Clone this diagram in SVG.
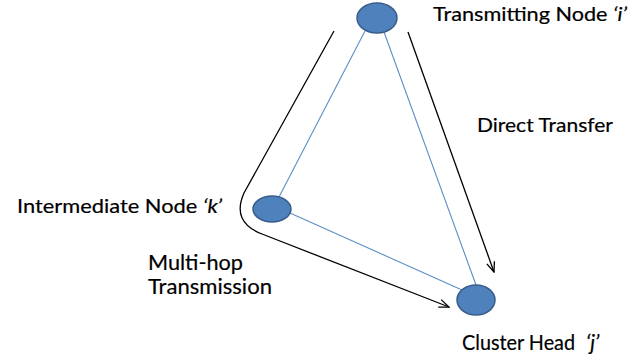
<svg xmlns="http://www.w3.org/2000/svg" width="640" height="362" viewBox="0 0 640 362">
  <defs>
    <marker id="arrow" viewBox="0 0 12 10" refX="11" refY="5" markerWidth="12" markerHeight="10" markerUnits="userSpaceOnUse" orient="auto">
      <path d="M1,1 L11,5 L1,9" fill="none" stroke="#000" stroke-width="1.3"/>
    </marker>
    <style>
      .node { fill: #4f81bd; stroke: #385d8a; stroke-width: 1.5; }
      .link { stroke: #5b8fc7; stroke-width: 1.1; fill: none; }
      .flow { stroke: #000; stroke-width: 1.3; fill: none; marker-end: url(#arrow); }
      .lbl { font-family: Lato, "Open Sans", "Liberation Sans", sans-serif; fill: #000; stroke: #000; stroke-width: 0.2; }
      .it { font-style: italic; }
    </style>
  </defs>

  <rect width="640" height="362" fill="#fff"/>

  <!-- links and transfer paths -->
  <g id="connectors">
    <line class="link" x1="365" y1="31" x2="279" y2="197"/>
    <line class="link" x1="384" y1="32" x2="476" y2="285"/>
    <line class="link" x1="290" y1="213" x2="462" y2="290"/>
    <path class="flow" d="M408,32 L494,272"/>
    <path class="flow" d="M334,31 L244,193 Q231,222 262,234 L449,307"/>
  </g>

  <g id="node-i">
    <ellipse class="node" cx="377" cy="18" rx="20" ry="15"/>
    <text class="lbl" x="433" y="21" font-size="19" textLength="194" lengthAdjust="spacingAndGlyphs">Transmitting Node <tspan class="it">‘i’</tspan></text>
  </g>

  <g id="node-k">
    <ellipse class="node" cx="272" cy="209" rx="19" ry="13"/>
    <text class="lbl" x="17" y="213" font-size="20" textLength="205" lengthAdjust="spacingAndGlyphs">Intermediate Node <tspan class="it">‘k’</tspan></text>
  </g>

  <g id="node-j">
    <ellipse class="node" cx="476" cy="300" rx="19" ry="15"/>
    <text class="lbl" x="462" y="350" font-size="21" textLength="113" lengthAdjust="spacingAndGlyphs">Cluster Head</text>
    <text class="lbl it" x="586" y="350" font-size="21">‘j’</text>
  </g>

  <g id="labels">
    <text class="lbl" x="477" y="132" font-size="20" textLength="136" lengthAdjust="spacingAndGlyphs">Direct Transfer</text>
    <text class="lbl" x="148" y="270" font-size="21" textLength="95" lengthAdjust="spacingAndGlyphs">Multi-hop</text>
    <text class="lbl" x="148" y="294" font-size="21" textLength="124" lengthAdjust="spacingAndGlyphs">Transmission</text>
  </g>
</svg>
